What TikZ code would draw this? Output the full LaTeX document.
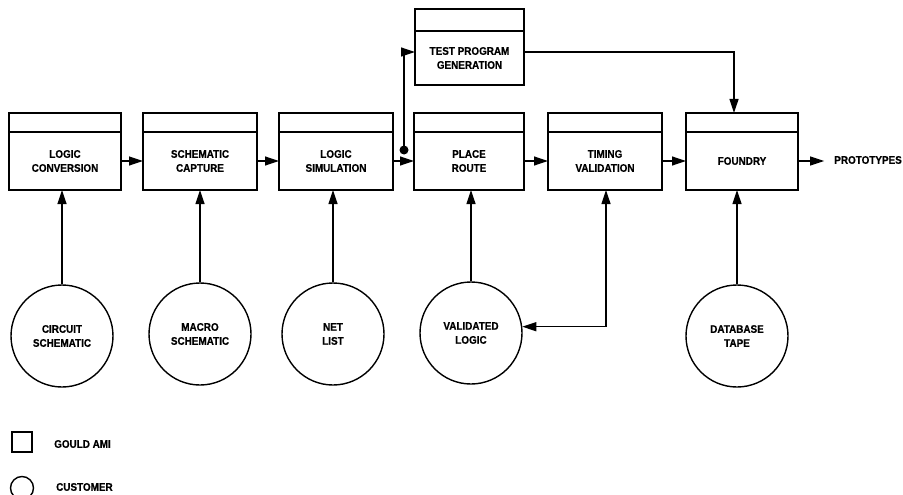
\documentclass[tikz,border=0pt]{standalone}
\usepackage{fontspec}
\setmainfont{Liberation Sans}[FakeStretch=0.9,BoldFeatures={FakeBold=0.6}]
\usetikzlibrary{arrows.meta}
\begin{document}
\begin{tikzpicture}[x=1pt,y=-1pt,
  every node/.style={font=\bfseries\fontsize{11}{14}\selectfont},
  body/.style={draw,line width=1.7pt,rectangle,minimum height=58pt,inner sep=0pt,outer sep=0pt,align=center},
  head/.style={draw,line width=1.7pt,rectangle,minimum height=19pt,inner sep=0pt,outer sep=0pt},
  cust/.style={draw,line width=1.4pt,circle,minimum size=102pt,inner sep=0pt,align=center},
  conn/.style={line width=1.2pt,-{Triangle[length=14pt,width=9pt]}},
  dconn/.style={line width=1.2pt,{Triangle[length=14pt,width=9pt]}-{Triangle[length=14pt,width=9pt]}},
  dotnode/.style={circle,fill,minimum size=9pt,inner sep=0pt},
  txt/.style={inner sep=0pt,anchor=west}]
\useasboundingbox (0,0) rectangle (903,495);
% process boxes
\node[body,minimum width=112pt] (b1) at (65,161) {LOGIC\\CONVERSION};
\node[head,minimum width=112pt,anchor=south] (h1) at (b1.north) {};
\node[body,minimum width=114pt] (b2) at (200,161) {SCHEMATIC\\CAPTURE};
\node[head,minimum width=114pt,anchor=south] (h2) at (b2.north) {};
\node[body,minimum width=114pt] (b3) at (336,161) {LOGIC\\SIMULATION};
\node[head,minimum width=114pt,anchor=south] (h3) at (b3.north) {};
\node[body,minimum width=110pt] (b4) at (469,161) {PLACE\\ROUTE};
\node[head,minimum width=110pt,anchor=south] (h4) at (b4.north) {};
\node[body,minimum width=114pt] (b5) at (605,161) {TIMING\\VALIDATION};
\node[head,minimum width=114pt,anchor=south] (h5) at (b5.north) {};
\node[body,minimum width=112pt] (b6) at (742,161) {FOUNDRY};
\node[head,minimum width=112pt,anchor=south] (h6) at (b6.north) {};
\node[body,minimum width=109pt,minimum height=54pt] (tp) at (469.5,58) {TEST PROGRAM\\GENERATION};
\node[head,minimum width=109pt,minimum height=22pt,anchor=south] (htp) at (tp.north) {};
% customer circles
\node[cust] (c1) at (62,336) {CIRCUIT\\SCHEMATIC};
\node[cust] (c2) at (200,334) {MACRO\\SCHEMATIC};
\node[cust] (c3) at (333,334) {NET\\LIST};
\node[cust] (c4) at (471,333) {VALIDATED\\LOGIC};
\node[cust] (c5) at (737,336) {DATABASE\\TAPE};
% output
\node[inner sep=0pt,anchor=east] (proto) at (902,160) {PROTOTYPES};
% flow arrows
\draw[conn] (b1) -- (b2);
\draw[conn] (b2) -- (b3);
\draw[conn] (b3) -- (b4);
\draw[conn] (b4) -- (b5);
\draw[conn] (b5) -- (b6);
\draw[conn] (b6.east) -- ([xshift=-10pt]proto.west |- b6.east);
% branch to test program
\node[dotnode] (dot) at (404,150) {};
\draw[conn] (dot.center) |- ([yshift=6pt]tp.west);
\draw[conn] ([yshift=6pt]tp.east) -| ([xshift=-8pt]h6.north);
% customer inputs
\draw[conn] (c1.north) -- (c1.north |- b1.south);
\draw[conn] (c2.north) -- (c2.north |- b2.south);
\draw[conn] (c3.north) -- (c3.north |- b3.south);
\draw[conn] (c4.north) -- (c4.north |- b4.south);
\draw[conn] (c5.north) -- (c5.north |- b6.south);
\draw[dconn] ([xshift=1pt]b5.south) |- (c4.7);
% legend
\node[draw,line width=1.4pt,minimum size=20pt,inner sep=0pt] (lsq) at (22,442) {};
\node[txt] (lsqt) at (54,444) {GOULD AMI};
\node[draw,line width=1.4pt,circle,minimum size=23pt,inner sep=0pt] (lci) at (22,488) {};
\node[txt] (lcit) at (56,487) {CUSTOMER};
\end{tikzpicture}
\end{document}
